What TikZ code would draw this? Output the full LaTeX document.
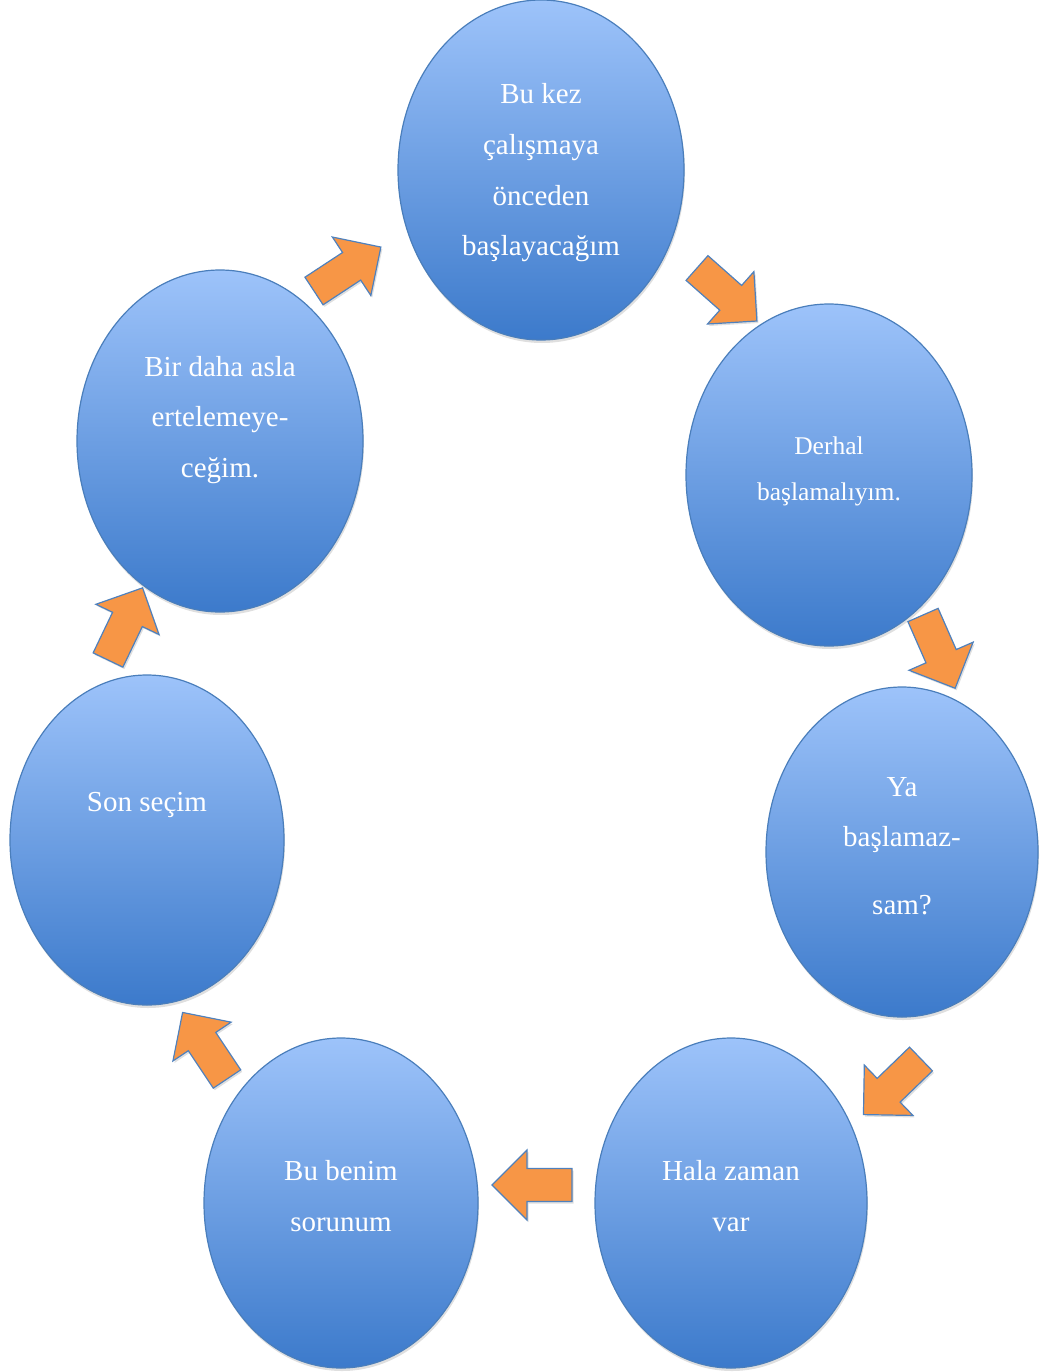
\documentclass[tikz,border=0pt]{standalone}
\usepackage{fontspec}
\setmainfont{Liberation Serif}
\usetikzlibrary{shapes.geometric,shadows}
\definecolor{eltop}{RGB}{157,195,250}
\definecolor{elbot}{RGB}{60,122,203}
\definecolor{elline}{RGB}{74,126,187}
\definecolor{arrfill}{RGB}{247,150,70}
\definecolor{arrline}{RGB}{79,129,189}
\begin{document}
\begin{tikzpicture}[x=1pt,y=-1pt,
  bubble/.style={ellipse, draw=elline, line width=1.2pt, top color=eltop, bottom color=elbot, inner sep=0pt,
    drop shadow={shadow xshift=1pt, shadow yshift=-3pt, opacity=0.25}},
  btext/.style={text=white, align=center, font=\fontsize{29}{50.7}\selectfont},
  stext/.style={text=white, align=center, font=\fontsize{25.5}{46}\selectfont},
  barrow/.pic={\draw[draw=arrline, line width=1.2pt, fill=arrfill, line join=miter,
      drop shadow={shadow xshift=1.5pt, shadow yshift=-2pt, opacity=0.25}]
      (0,-16.5) -- (45,-16.5) -- (45,-35) -- (80,0) -- (45,35) -- (45,16.5) -- (0,16.5) -- cycle;}]
\useasboundingbox (0,0) rectangle (1039,1372);

% ellipses
\node[bubble, minimum width=286pt, minimum height=340pt] (e1) at (541,170) {};
\node[bubble, minimum width=286pt, minimum height=342pt] (e2) at (829,475) {};
\node[bubble, minimum width=272pt, minimum height=330pt] (e3) at (902,852) {};
\node[bubble, minimum width=272pt, minimum height=330pt] (e4) at (731,1203) {};
\node[bubble, minimum width=274pt, minimum height=330pt] (e5) at (341,1203) {};
\node[bubble, minimum width=274pt, minimum height=330pt] (e6) at (147,840) {};
\node[bubble, minimum width=286pt, minimum height=342pt] (e7) at (220,441) {};

% texts
\node[btext] (t1) at (541,173) {Bu kez\\çalışmaya\\önceden\\başlayacağım};
\node[stext] (t2) at (829,471) {Derhal\\başlamalıyım.};
\node[btext] (t3) at (902,846) {Ya\\başlamaz-\\[17pt]sam?};
\node[btext] (t4) at (731,1196) {Hala zaman\\var};
\node[btext] (t5) at (341,1196) {Bu benim\\sorunum};
\node[btext] (t6) at (147,805) {Son seçim};
\node[btext] (t7) at (220,420) {Bir daha asla\\ertelemeye-\\ceğim.};

% block arrows
\coordinate (a1) at (314,291);
\coordinate (a2) at (697,268);
\coordinate (a3) at (923,615);
\coordinate (a4) at (921,1059);
\coordinate (a5) at (572,1185);
\coordinate (a6) at (227,1079);
\coordinate (a7) at (108,660);
\pic[rotate=33.3] at (a1) {barrow};
\pic[rotate=-41.5] at (a2) {barrow};
\pic[rotate=-66.3] at (a3) {barrow};
\pic[rotate=-136] at (a4) {barrow};
\pic[rotate=180] at (a5) {barrow};
\pic[rotate=123.7] at (a6) {barrow};
\pic[rotate=64.4] at (a7) {barrow};
\end{tikzpicture}
\end{document}
